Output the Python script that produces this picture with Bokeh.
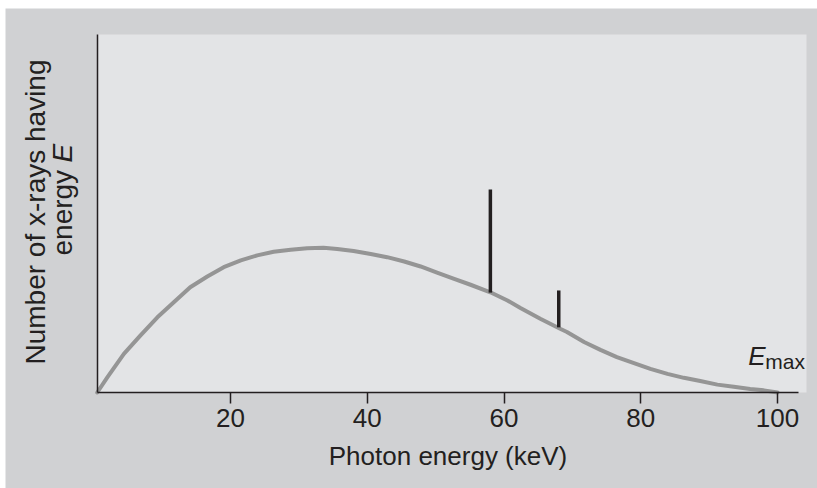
import math
from bokeh.plotting import figure
from bokeh.models import Range1d, FixedTicker, Label, BoxAnnotation
from bokeh.embed import file_html
from bokeh.resources import INLINE

# ---- data ----
energy_kev = [0.5, 2.0, 4.4, 6.8, 9.3, 11.7, 14.1, 16.6, 19.0, 21.5, 23.9, 26.3,
              28.8, 31.2, 33.6, 35.6, 38.0, 40.5, 42.9, 45.4, 47.8, 50.2, 52.6,
              55.1, 58.0, 60.5, 62.4, 65.3, 68.2, 69.2, 71.7, 74.1, 76.5, 79.0,
              81.4, 83.9, 86.3, 88.7, 91.2, 93.6, 96.0, 98.0, 100.0]
counts = [0.0, 4.3, 10.8, 15.9, 21.0, 25.2, 29.4, 32.4, 35.0, 36.9, 38.3, 39.3,
          39.9, 40.3, 40.4, 40.1, 39.5, 38.7, 37.8, 36.6, 35.2, 33.5, 31.8,
          30.1, 28.0, 25.7, 23.6, 20.6, 17.8, 16.9, 14.1, 11.9, 9.9, 8.2,
          6.6, 5.2, 4.1, 3.2, 2.2, 1.6, 1.0, 0.6, 0.0]
line_energy = [58.0, 68.0]          # characteristic lines (keV)
line_top = [56.7, 28.5]
line_bottom = [27.9, 18.2]
x_ticks = [20, 40, 60, 80, 100]

INK = "#231f20"
FONT = "Liberation Sans"
OUTER = "#d0d1d3"
INNER = "#e3e4e6"

W, H = 817, 488
PXK, X0 = 6.8375, 93.3      # px per keV, x of 0 keV
PXY, Y0 = 3.58, 392.0       # px per unit, y of 0 counts

def xd(px):
    return (px - X0) / PXK

def yd(py):
    return (Y0 - py) / PXY

p = figure(width=W, height=H,
           x_range=Range1d(xd(0), xd(W)),
           y_range=Range1d(yd(H), yd(0)),
           output_backend="svg", toolbar_location=None,
           min_border=0, min_border_left=0, min_border_right=0,
           min_border_top=0, min_border_bottom=0,
           background_fill_color="white", border_fill_color="white",
           outline_line_color=None)
p.grid.visible = False

# outer grey panel and inner plot-area panel
p.add_layout(BoxAnnotation(left=xd(5), top=yd(8),
                           fill_color=OUTER, fill_alpha=1.0,
                           line_color=None, level="underlay"))
p.add_layout(BoxAnnotation(left=0.5, right=xd(806), bottom=0, top=100,
                           fill_color=INNER, fill_alpha=1.0,
                           line_color=None, level="underlay"))

xa = p.xaxis[0]
xa.fixed_location = 0
xa.ticker = FixedTicker(ticks=x_ticks)
xa.bounds = (0.5, 103)
xa.axis_line_color = INK
xa.axis_line_width = 1.5
xa.major_tick_line_color = INK
xa.major_tick_line_width = 1.5
xa.major_tick_in = 0
xa.major_tick_out = 11
xa.minor_tick_line_color = None
xa.major_label_text_font = FONT
xa.major_label_text_font_size = "26px"
xa.major_label_text_color = INK
xa.major_label_standoff = 5
xa.axis_label = "Photon energy (keV)"
xa.axis_label_text_font = FONT
xa.axis_label_text_font_size = "26px"
xa.axis_label_text_font_style = "normal"
xa.axis_label_text_color = INK
xa.axis_label_standoff = 11

ya = p.yaxis[0]
ya.fixed_location = 0.5
ya.bounds = (0, 100)
ya.ticker = FixedTicker(ticks=[])
ya.axis_line_color = INK
ya.axis_line_width = 1.5
ya.major_tick_line_color = None
ya.minor_tick_line_color = None
ya.major_label_text_font_size = "0px"

p.line(energy_kev, counts, line_color="#959595", line_width=4,
       line_join="round", line_cap="round")
p.segment(x0=line_energy, y0=line_bottom, x1=line_energy, y1=line_top,
          line_color=INK, line_width=3.5)

def lab(x, y, text, size, align="left", style="normal", angle=0.0):
    p.add_layout(Label(x=x, y=y, text=text, angle=angle, text_align=align,
                       text_baseline="alphabetic", text_font=FONT,
                       text_font_style=style, text_font_size=size,
                       text_color=INK))

# y-axis title (two rotated lines)
lab(xd(35), yd(211.5), "Number of x-rays having", "28px", "center", angle=math.pi / 2)
lab(xd(62), yd(255), "energy", "28px", "left", angle=math.pi / 2)
lab(xd(62), yd(162), "E", "28px", "left", "italic", angle=math.pi / 2)

# E_max marker
lab(95.7, yd(355), "E", "26px", "left", "italic")
lab(98.2, yd(361), "max", "21px", "left")

open("out.html", "w").write(file_html(p, INLINE))
